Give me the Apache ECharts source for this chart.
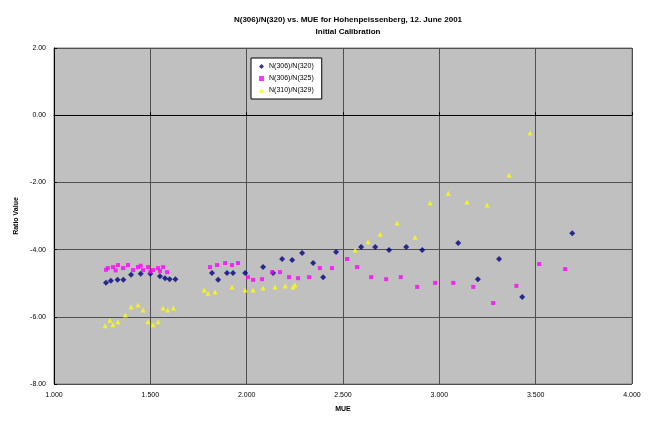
<!DOCTYPE html>
<html>
<head>
<meta charset="utf-8">
<script src="https://cdn.jsdelivr.net/npm/echarts@6/dist/echarts.min.js"></script>
<style>
html,body{margin:0;padding:0;background:#fff;}
#c{width:651px;height:427px;}
</style>
</head>
<body>
<div id="c"></div>
<script>
const seriesNames = ["N(306)/N(320)", "N(306)/N(325)", "N(310)/N(329)"];
const xTicks = [1.0, 1.5, 2.0, 2.5, 3.0, 3.5, 4.0];
const yTicks = [-8, -6, -4, -2, 0, 2];

const navyPts = [
  [1.27,-4.99],[1.295,-4.93],[1.33,-4.90],[1.36,-4.90],[1.40,-4.75],[1.45,-4.72],[1.50,-4.72],
  [1.55,-4.79],[1.576,-4.85],[1.60,-4.88],[1.63,-4.88],
  [1.82,-4.70],[1.852,-4.90],[1.898,-4.70],[1.929,-4.70],[1.992,-4.70],[2.085,-4.52],[2.137,-4.70],
  [2.184,-4.28],[2.236,-4.31],[2.288,-4.10],[2.345,-4.40],[2.397,-4.82],[2.464,-4.07],[2.594,-3.92],
  [2.667,-3.92],[2.739,-4.01],[2.828,-3.92],[2.911,-4.01],[3.098,-3.80],[3.20,-4.88],[3.31,-4.28],
  [3.43,-5.41],[3.69,-3.51]
];
const magentaPts = [
  [1.27,-4.60],[1.28,-4.55],[1.306,-4.52],[1.32,-4.62],[1.332,-4.46],[1.358,-4.55],[1.384,-4.46],
  [1.41,-4.61],[1.436,-4.52],[1.45,-4.48],[1.462,-4.61],[1.488,-4.52],[1.50,-4.66],[1.514,-4.61],
  [1.54,-4.55],[1.55,-4.64],[1.566,-4.52],[1.587,-4.67],
  [1.81,-4.52],[1.846,-4.46],[1.888,-4.40],[1.924,-4.46],[1.955,-4.40],[2.007,-4.82],[2.033,-4.90],
  [2.08,-4.88],[2.132,-4.67],[2.173,-4.67],[2.22,-4.82],[2.267,-4.85],[2.324,-4.82],[2.38,-4.55],
  [2.443,-4.55],[2.521,-4.28],[2.573,-4.52],[2.646,-4.82],[2.724,-4.88],[2.80,-4.82],[2.885,-5.11],
  [2.978,-4.99],[3.072,-4.99],[3.176,-5.11],[3.279,-5.59],[3.40,-5.08],[3.518,-4.43],[3.653,-4.58]
];
const yellowPts = [
  [1.265,-6.27],[1.29,-6.10],[1.306,-6.24],[1.332,-6.15],[1.37,-5.95],[1.40,-5.71],[1.436,-5.65],
  [1.462,-5.80],[1.488,-6.15],[1.514,-6.24],[1.54,-6.15],[1.566,-5.74],[1.59,-5.80],[1.62,-5.74],
  [1.78,-5.20],[1.80,-5.30],[1.836,-5.26],[1.924,-5.11],[1.992,-5.20],[2.033,-5.20],[2.085,-5.14],
  [2.147,-5.11],[2.20,-5.08],[2.24,-5.11],[2.251,-5.05],
  [2.563,-4.01],[2.63,-3.77],[2.693,-3.54],[2.781,-3.21],[2.874,-3.63],[2.952,-2.61],[3.046,-2.32],
  [3.144,-2.58],[3.248,-2.67],[3.362,-1.78],[3.47,-0.53]
];

const chart = echarts.init(document.getElementById('c'), null, {renderer:'canvas'});
const F = 'Liberation Sans, Arial, sans-serif';
chart.setOption({
  backgroundColor: '#ffffff',
  animation: false,
  title: {
    text: 'N(306)/N(320) vs. MUE for Hohenpeissenberg, 12. June 2001\nInitial Calibration',
    left: 343, top: 9, textAlign: 'center',
    textStyle: {fontFamily: F, fontSize: 8, fontWeight: 'bold', color: '#000', lineHeight: 12}
  },
  legend: {
    orient: 'vertical', left: 251, top: 58,
    backgroundColor: '#ffffff', borderColor: '#000', borderWidth: 1,
    padding: [5, 8, 5, 8], itemGap: 5, itemWidth: 5, itemHeight: 5,
    textStyle: {fontFamily: F, fontSize: 7, color: '#000'},
    data: seriesNames
  },
  grid: {left: 54, right: 19, top: 48, bottom: 43, show: true, backgroundColor: '#c0c0c0', borderColor: '#808080', borderWidth: 1},
  xAxis: {
    type: 'value', min: 1.0, max: 4.0, interval: 0.5,
    name: 'MUE', nameLocation: 'middle', nameGap: 22,
    nameTextStyle: {fontFamily: F, fontSize: 7, fontWeight: 'bold', color: '#000'},
    axisLine: {show: true, lineStyle: {color: '#000'}},
    axisTick: {show: true, inside: true, length: 3, lineStyle: {color: '#000'}},
    axisLabel: {fontFamily: F, fontSize: 7, color: '#000', formatter: v => v.toFixed(3)},
    splitLine: {show: true, lineStyle: {color: '#505050', width: 1}}
  },
  yAxis: {
    type: 'value', min: -8, max: 2, interval: 2,
    name: 'Ratio Value', nameLocation: 'middle', nameGap: 34, nameRotate: 90,
    nameTextStyle: {fontFamily: F, fontSize: 7, fontWeight: 'bold', color: '#000'},
    axisLine: {show: true, lineStyle: {color: '#000'}},
    axisTick: {show: true, inside: true, length: 3, lineStyle: {color: '#000'}},
    axisLabel: {fontFamily: F, fontSize: 7, color: '#000', formatter: v => v.toFixed(2)},
    splitLine: {show: true, lineStyle: {color: '#505050', width: 1}}
  },
  series: [
    {name: seriesNames[0], type: 'scatter', symbol: 'diamond', symbolSize: 6, itemStyle: {color: '#000080'}, data: navyPts},
    {name: seriesNames[1], type: 'scatter', symbol: 'rect', symbolSize: 4, itemStyle: {color: '#ff00ff'}, data: magentaPts},
    {name: seriesNames[2], type: 'scatter', symbol: 'triangle', symbolSize: 5, itemStyle: {color: '#ffff00'}, data: yellowPts}
  ]
});
</script>
</body>
</html>
